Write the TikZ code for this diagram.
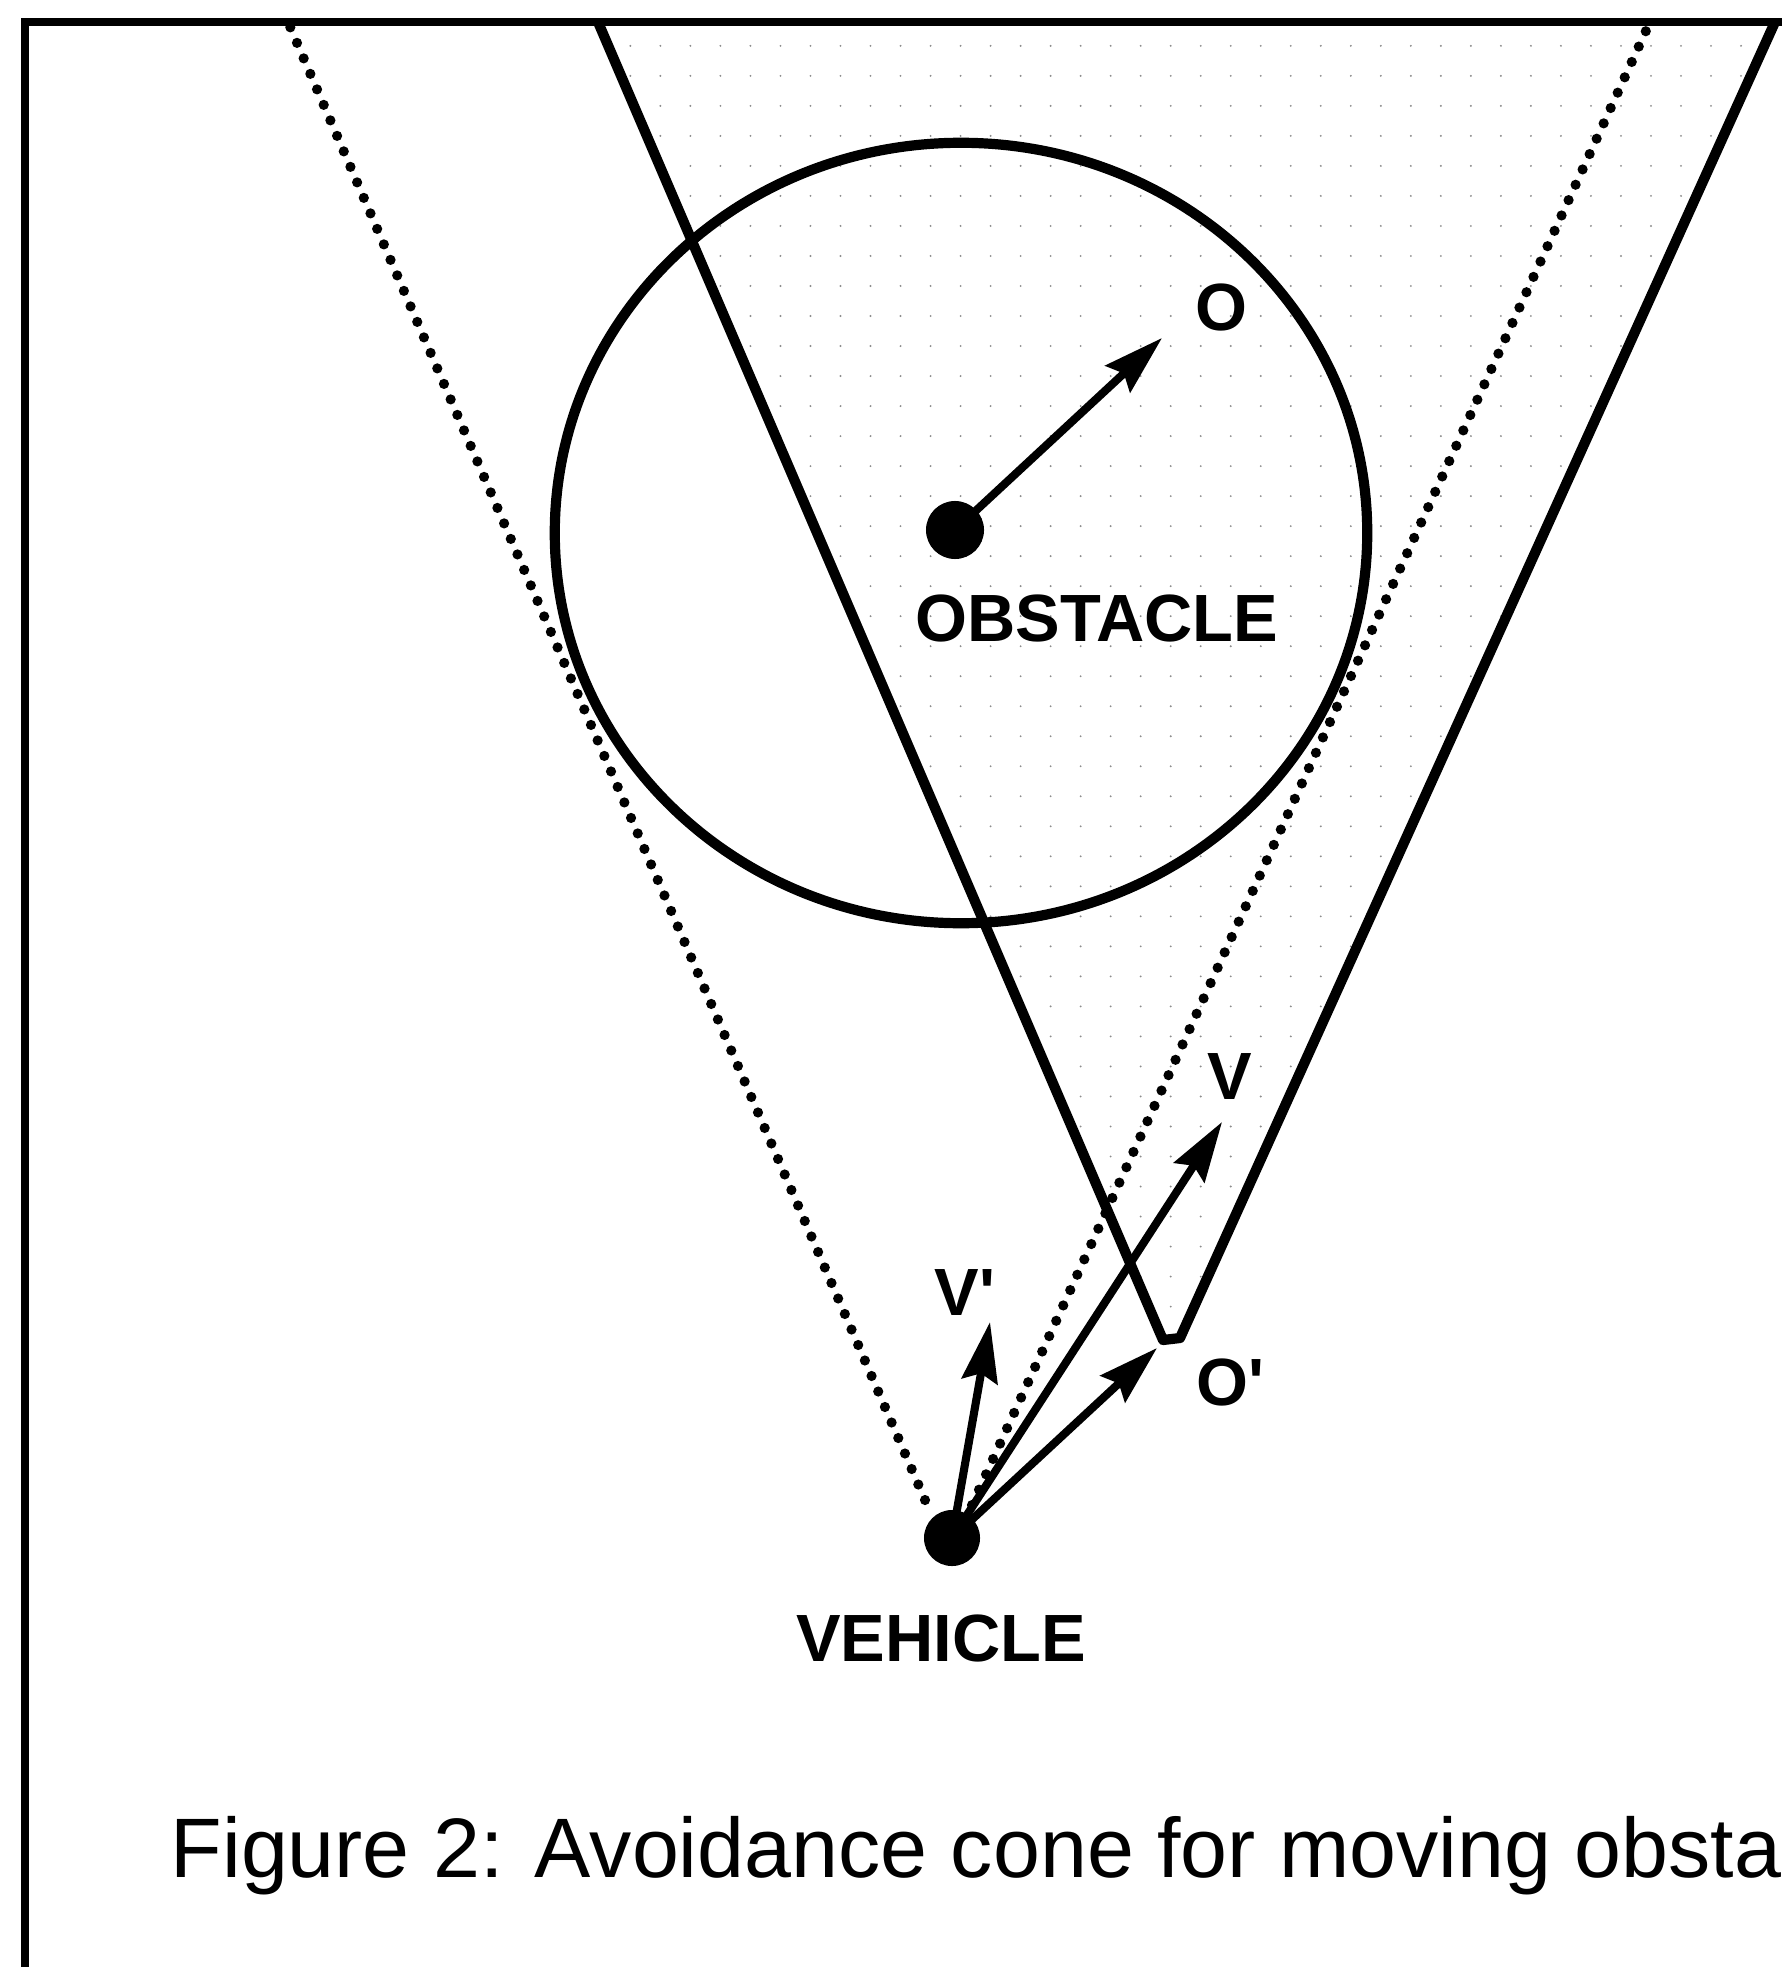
\documentclass[tikz,border=0pt]{standalone}
\usepackage{fontspec}
\setmainfont{Liberation Sans}
\newfontfamily\labfont[Ligatures=TeXOff]{Liberation Sans}
\usetikzlibrary{arrows.meta,patterns.meta}
\begin{document}
\begin{tikzpicture}[x=0.01cm,y=-0.01cm,
  frameline/.style={line width=2pt},
  solidline/.style={line width=2.9pt, line join=round},
  dotline/.style={line width=2.9pt, line cap=round, dash pattern=on 0pt off 4.8pt},
  vec/.style={line width=2.3pt, -{Stealth[length=0.6cm,width=0.36cm,inset=0.08cm]}},
  dotnode/.style={circle, fill=black, inner sep=0pt},
  lab/.style={font=\labfont\fontsize{19}{22}\selectfont\bfseries, inner sep=0pt},
  stipple/.style={pattern={Dots[distance=0.3cm, radius=0.3pt]}, pattern color=black!45},
]
\useasboundingbox (0,0) rectangle (1782,1967);
\clip (0,0) rectangle (1782,1967);

% key points
\coordinate (apexL) at (1163,1340);
\coordinate (apexR) at (1180,1338);
\coordinate (topL) at (598,22);
\coordinate (topR) at (1775,22);
\coordinate (dL) at (925,1500);
\coordinate (dR) at (972,1505);
\coordinate (dLtop) at (288,22);
\coordinate (dRtop) at (1650,22);

% stippled translated cone
\fill[stipple] (topL) -- (apexL) -- (apexR) -- (topR) -- cycle;

% frame
\draw[frameline] (25,1967) -- (25,22) -- (1782,22);

% obstacle circle
\draw[line width=2.9pt] (961,533) ellipse [x radius=4.06cm, y radius=3.90cm];

% avoidance cone (dotted)
\draw[dotline] (dL) -- (dLtop);
\draw[dotline] (dR) -- (dRtop);

% translated cone (solid)
\draw[solidline] (topL) -- (apexL) -- (apexR) -- (topR);

% dots
\node[dotnode, minimum size=0.58cm] (obs) at (955,530) {};
\node[dotnode, minimum size=0.56cm] (veh) at (952,1538) {};

% vectors
\coordinate (Otip) at (1162,338);
\coordinate (Vtip) at (1222,1122);
\coordinate (Vptip) at (990,1322);
\coordinate (Optip) at (1157,1348);
\draw[vec] (obs.center) -- (Otip);
\draw[vec] (veh.center) -- (Vtip);
\draw[vec] (veh.center) -- (Vptip);
\draw[vec] (veh.center) -- (Optip);

% labels
\node[lab] (lO) at (1221,307) {O};
\node[lab] (lobs) at (1097,618) {OBSTACLE};
\node[lab] (lV) at (1230,1077) {V};
\node[lab] (lVp) at (965,1293) {V'};
\node[lab] (lOp) at (1230,1382) {O'};
\node[lab] (lveh) at (941,1638) {VEHICLE};

% caption
\node[anchor=base west, font=\fontsize{24}{28}\selectfont, inner sep=0pt] (cap) at (170,1877) {Figure 2: Avoidance cone for moving obsta};
\end{tikzpicture}
\end{document}
